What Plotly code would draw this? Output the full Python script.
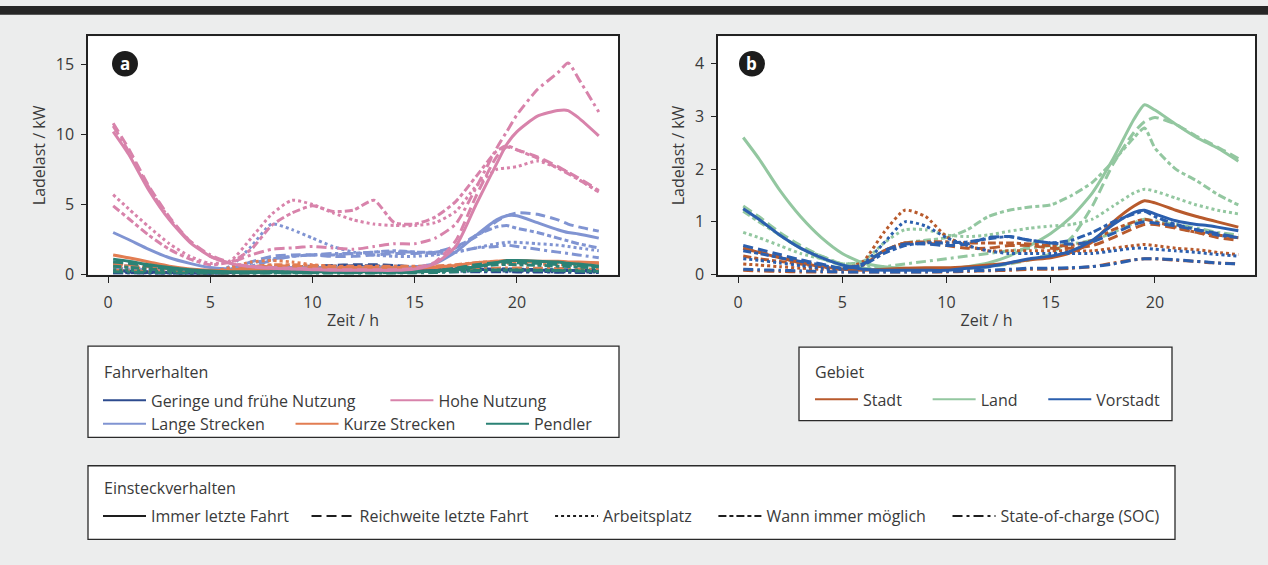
import plotly.graph_objects as go

# ---------------- data ----------------
hours = [0.25, 1, 2, 3, 4, 5, 6, 7, 8, 9, 10, 11, 12, 13, 14, 15, 16, 17, 18, 19,
         19.5, 20, 21, 22, 22.5, 23, 24]

plug_styles = ["Immer letzte Fahrt", "Reichweite letzte Fahrt", "Arbeitsplatz",
               "Wann immer möglich", "State-of-charge (SOC)"]

# Panel a: Fahrverhalten (driving behaviour), values in kW per plug-in behaviour
a_geringe = {
    "Immer letzte Fahrt": [0.3,0.25,0.2,0.15,0.12,0.1,0.15,0.25,0.35,0.4,0.45,0.5,0.55,0.55,0.5,0.45,0.4,0.38,0.36,0.35,0.35,0.33,0.3,0.3,0.3,0.28,0.25],
    "Reichweite letzte Fahrt": [0.2,0.18,0.15,0.12,0.1,0.08,0.15,0.3,0.45,0.55,0.6,0.65,0.7,0.7,0.65,0.55,0.5,0.45,0.4,0.38,0.37,0.35,0.33,0.3,0.3,0.28,0.25],
    "Arbeitsplatz": [0.15,0.13,0.1,0.08,0.07,0.06,0.2,0.45,0.6,0.55,0.45,0.35,0.3,0.28,0.26,0.25,0.25,0.25,0.25,0.25,0.25,0.24,0.22,0.2,0.2,0.19,0.18],
    "Wann immer möglich": [0.25,0.22,0.18,0.14,0.1,0.08,0.12,0.25,0.4,0.5,0.55,0.6,0.62,0.62,0.6,0.55,0.5,0.45,0.42,0.4,0.4,0.38,0.35,0.33,0.32,0.3,0.28],
    "State-of-charge (SOC)": [0.1,0.09,0.08,0.07,0.06,0.05,0.06,0.1,0.15,0.18,0.2,0.2,0.2,0.2,0.2,0.2,0.2,0.2,0.2,0.2,0.2,0.19,0.18,0.17,0.16,0.15,0.14],
}
a_lange = {
    "Immer letzte Fahrt": [3.0,2.5,1.8,1.2,0.8,0.5,0.4,0.45,0.5,0.5,0.5,0.5,0.5,0.5,0.5,0.55,0.8,1.6,2.8,3.9,4.2,4.2,3.7,3.2,3.0,2.9,2.6],
    "Reichweite letzte Fahrt": [0.9,0.8,0.6,0.45,0.35,0.3,0.4,0.9,1.3,1.4,1.4,1.3,1.3,1.4,1.5,1.5,1.6,2.0,2.7,3.8,4.2,4.4,4.3,3.9,3.6,3.4,3.1],
    "Arbeitsplatz": [0.6,0.5,0.4,0.3,0.25,0.2,0.6,2.0,3.6,3.2,2.6,2.0,1.6,1.4,1.3,1.3,1.4,1.6,1.9,2.2,2.3,2.3,2.2,2.1,2.0,1.9,1.7],
    "Wann immer möglich": [0.7,0.6,0.5,0.4,0.3,0.25,0.4,0.8,1.1,1.3,1.4,1.4,1.5,1.6,1.7,1.6,1.6,1.9,2.8,3.4,3.5,3.3,3.0,2.6,2.4,2.2,1.9],
    "State-of-charge (SOC)": [0.5,0.4,0.35,0.3,0.25,0.2,0.3,0.6,1.0,1.3,1.4,1.5,1.5,1.6,1.6,1.6,1.5,1.6,1.9,2.0,2.1,2.0,1.8,1.6,1.5,1.4,1.2],
}
a_kurze = {
    "Immer letzte Fahrt": [1.4,1.2,0.9,0.6,0.4,0.3,0.3,0.35,0.4,0.4,0.4,0.4,0.4,0.4,0.4,0.45,0.5,0.65,0.85,0.95,1.0,1.0,0.95,0.95,0.9,0.9,0.85],
    "Reichweite letzte Fahrt": [0.8,0.7,0.55,0.4,0.3,0.22,0.3,0.5,0.6,0.6,0.55,0.5,0.5,0.5,0.5,0.5,0.55,0.65,0.8,0.9,0.9,0.9,0.88,0.85,0.85,0.82,0.8],
    "Arbeitsplatz": [0.6,0.5,0.4,0.3,0.2,0.2,0.5,0.9,1.0,0.9,0.7,0.6,0.5,0.5,0.5,0.5,0.5,0.6,0.7,0.8,0.8,0.8,0.75,0.7,0.7,0.7,0.65],
    "Wann immer möglich": [0.7,0.6,0.5,0.38,0.28,0.2,0.3,0.55,0.7,0.7,0.65,0.6,0.6,0.6,0.6,0.6,0.6,0.7,0.85,0.95,0.95,0.95,0.9,0.88,0.85,0.85,0.8],
    "State-of-charge (SOC)": [0.3,0.27,0.22,0.18,0.14,0.1,0.1,0.12,0.15,0.17,0.18,0.18,0.18,0.18,0.18,0.2,0.22,0.28,0.38,0.45,0.47,0.47,0.45,0.43,0.42,0.4,0.38],
}
a_pendler = {
    "Immer letzte Fahrt": [1.1,0.95,0.7,0.5,0.35,0.25,0.2,0.2,0.2,0.2,0.2,0.2,0.2,0.2,0.2,0.2,0.25,0.35,0.55,0.85,1.0,1.0,0.95,0.9,0.8,0.75,0.6],
    "Reichweite letzte Fahrt": [0.9,0.8,0.6,0.42,0.3,0.2,0.15,0.12,0.12,0.12,0.12,0.12,0.12,0.12,0.13,0.18,0.28,0.45,0.7,0.85,0.88,0.85,0.8,0.72,0.68,0.62,0.55],
    "Arbeitsplatz": [0.35,0.3,0.25,0.2,0.15,0.12,0.12,0.15,0.18,0.2,0.2,0.2,0.2,0.2,0.2,0.2,0.22,0.25,0.3,0.32,0.32,0.32,0.3,0.3,0.28,0.28,0.25],
    "Wann immer möglich": [0.6,0.52,0.4,0.3,0.22,0.16,0.14,0.14,0.15,0.16,0.16,0.16,0.16,0.16,0.17,0.2,0.28,0.4,0.58,0.7,0.72,0.7,0.66,0.6,0.57,0.53,0.48],
    "State-of-charge (SOC)": [0.2,0.18,0.15,0.12,0.1,0.08,0.07,0.07,0.07,0.07,0.07,0.07,0.07,0.07,0.08,0.1,0.14,0.2,0.28,0.32,0.33,0.32,0.3,0.28,0.27,0.25,0.22],
}
a_hohe = {
    "Immer letzte Fahrt": [10.2,8.6,6.0,3.9,2.3,1.3,0.8,0.55,0.45,0.4,0.35,0.3,0.3,0.3,0.3,0.4,0.8,2.0,5.0,7.9,9.3,10.2,11.3,11.7,11.7,11.2,9.9],
    "Reichweite letzte Fahrt": [10.8,9.0,6.3,4.1,2.4,1.3,0.8,0.6,0.5,0.45,0.4,0.35,0.35,0.35,0.35,0.45,0.9,2.4,5.6,8.4,9.1,8.9,8.4,7.7,7.3,6.9,6.0],
    "Arbeitsplatz": [5.7,4.7,3.4,2.2,1.3,0.8,1.0,2.6,4.3,5.3,5.0,4.4,3.9,3.6,3.5,3.5,3.7,4.5,6.3,7.5,7.6,7.7,8.1,7.6,7.3,6.8,5.9],
    "Wann immer möglich": [4.9,4.0,2.8,1.8,1.1,0.7,0.9,1.8,3.5,4.4,4.9,4.5,4.6,5.3,3.7,3.6,4.1,5.2,7.0,8.8,9.2,8.9,8.3,7.6,7.2,6.8,5.9],
    "State-of-charge (SOC)": [10.6,8.8,6.2,4.0,2.4,1.4,0.9,1.4,1.8,1.9,2.0,1.9,1.8,2.0,2.2,2.2,2.6,3.6,6.2,9.0,10.2,11.4,13.2,14.4,15.1,14.0,11.6],
}

# Panel b: Gebiet (area)
b_land = {
    "Immer letzte Fahrt": [2.6,2.2,1.6,1.1,0.7,0.4,0.22,0.15,0.12,0.1,0.1,0.15,0.22,0.35,0.55,0.78,1.1,1.55,2.2,2.95,3.22,3.12,2.85,2.6,2.5,2.4,2.15],
    "Reichweite letzte Fahrt": [1.3,1.1,0.8,0.55,0.35,0.2,0.12,0.1,0.1,0.1,0.1,0.12,0.15,0.2,0.28,0.4,0.7,1.3,2.1,2.7,2.9,2.98,2.85,2.62,2.52,2.42,2.2],
    "Arbeitsplatz": [0.8,0.7,0.55,0.4,0.3,0.2,0.25,0.6,0.85,0.85,0.75,0.72,0.75,0.82,0.88,0.92,0.95,1.05,1.3,1.55,1.62,1.58,1.45,1.32,1.27,1.22,1.15],
    "Wann immer möglich": [1.2,1.0,0.75,0.5,0.35,0.2,0.25,0.45,0.6,0.65,0.7,0.85,1.1,1.22,1.28,1.32,1.5,1.75,2.15,2.6,2.78,2.4,2.0,1.78,1.65,1.52,1.32],
    "State-of-charge (SOC)": [1.25,1.05,0.75,0.5,0.3,0.18,0.15,0.15,0.2,0.25,0.3,0.35,0.4,0.45,0.5,0.55,0.58,0.65,0.8,0.98,1.05,1.02,0.95,0.88,0.84,0.8,0.75],
}
b_stadt = {
    "Immer letzte Fahrt": [0.5,0.42,0.32,0.22,0.15,0.1,0.08,0.1,0.12,0.13,0.13,0.15,0.18,0.22,0.28,0.32,0.42,0.62,1.0,1.3,1.4,1.36,1.22,1.1,1.05,1.0,0.9],
    "Reichweite letzte Fahrt": [0.5,0.43,0.34,0.25,0.17,0.12,0.2,0.45,0.6,0.6,0.55,0.5,0.5,0.55,0.55,0.5,0.5,0.55,0.7,0.88,0.95,0.95,0.88,0.8,0.75,0.7,0.65],
    "Arbeitsplatz": [0.2,0.18,0.15,0.12,0.1,0.1,0.25,0.8,1.22,1.1,0.72,0.55,0.45,0.45,0.45,0.45,0.45,0.45,0.5,0.55,0.57,0.55,0.5,0.47,0.45,0.42,0.38],
    "Wann immer möglich": [0.35,0.3,0.25,0.2,0.15,0.1,0.18,0.45,0.6,0.62,0.62,0.6,0.6,0.6,0.58,0.55,0.55,0.65,0.85,1.0,1.05,1.0,0.9,0.8,0.78,0.75,0.7],
    "State-of-charge (SOC)": [0.08,0.07,0.06,0.05,0.05,0.05,0.05,0.05,0.05,0.05,0.05,0.06,0.07,0.08,0.1,0.1,0.12,0.15,0.22,0.28,0.3,0.3,0.27,0.25,0.23,0.22,0.2],
}
b_vorstadt = {
    "Immer letzte Fahrt": [1.25,1.05,0.75,0.5,0.32,0.18,0.1,0.08,0.08,0.08,0.08,0.12,0.15,0.22,0.3,0.35,0.45,0.65,0.95,1.18,1.22,1.15,1.02,0.95,0.93,0.9,0.83],
    "Reichweite letzte Fahrt": [0.55,0.48,0.38,0.28,0.2,0.12,0.2,0.45,0.58,0.58,0.55,0.58,0.7,0.72,0.65,0.6,0.58,0.62,0.78,0.95,1.0,0.98,0.92,0.85,0.82,0.78,0.7],
    "Arbeitsplatz": [0.3,0.27,0.22,0.17,0.12,0.1,0.2,0.6,1.0,0.92,0.7,0.55,0.45,0.4,0.4,0.4,0.4,0.4,0.45,0.5,0.5,0.48,0.45,0.42,0.4,0.38,0.35],
    "Wann immer möglich": [0.45,0.4,0.32,0.25,0.18,0.12,0.18,0.4,0.55,0.6,0.6,0.62,0.68,0.72,0.65,0.6,0.65,0.8,1.0,1.15,1.2,1.1,0.95,0.85,0.8,0.75,0.7],
    "State-of-charge (SOC)": [0.1,0.09,0.08,0.07,0.06,0.05,0.05,0.05,0.05,0.05,0.06,0.07,0.08,0.1,0.12,0.12,0.13,0.15,0.2,0.28,0.3,0.3,0.28,0.25,0.24,0.22,0.2],
}

x_ticks = [0, 5, 10, 15, 20]
a_y_ticks = [0, 5, 10, 15]
b_y_ticks = [0, 1, 2, 3, 4]

# ---------------- styles ----------------
W, H = 1268, 565
FONT = "Open Sans"
TXT = "#3a3a3a"
dash_of = {
    "Immer letzte Fahrt": "solid",
    "Reichweite letzte Fahrt": "10px,5px",
    "Arbeitsplatz": "3px,3px",
    "Wann immer möglich": "8px,3px,4px,3px",
    "State-of-charge (SOC)": "10px,4px,3px,4px",
}
col_a = {"Geringe und frühe Nutzung": "#2d4b8e", "Hohe Nutzung": "#d883ab",
         "Lange Strecken": "#8094d2", "Kurze Strecken": "#e27d52", "Pendler": "#2b8275"}
col_b = {"Stadt": "#b85a2c", "Land": "#93c7a0", "Vorstadt": "#2b5fae"}

groups_a = [("Geringe und frühe Nutzung", a_geringe), ("Lange Strecken", a_lange),
            ("Kurze Strecken", a_kurze), ("Pendler", a_pendler), ("Hohe Nutzung", a_hohe)]
groups_b = [("Land", b_land), ("Stadt", b_stadt), ("Vorstadt", b_vorstadt)]

def px_x(p):
    return p / W

def px_y(p):
    return 1 - p / H

fig = go.Figure()

for name, series in groups_a:
    for style in plug_styles:
        fig.add_trace(go.Scatter(
            x=hours, y=series[style], mode="lines", xaxis="x", yaxis="y",
            line=dict(color=col_a[name], width=3, dash=dash_of[style], shape="spline", smoothing=0.6),
            showlegend=False, hoverinfo="skip"))

for name, series in groups_b:
    for style in plug_styles:
        fig.add_trace(go.Scatter(
            x=hours, y=series[style], mode="lines", xaxis="x2", yaxis="y2",
            line=dict(color=col_b[name], width=3, dash=dash_of[style], shape="spline", smoothing=0.6),
            showlegend=False, hoverinfo="skip"))

def legend_entry(name, color, dash, legend, pad):
    fig.add_trace(go.Scatter(
        x=[None], y=[None], mode="lines", name=name + "\u00a0" * pad,
        line=dict(color=color, width=2, dash=dash), legend=legend,
        xaxis="x", yaxis="y", hoverinfo="skip"))

legend_entry("Geringe und frühe Nutzung", col_a["Geringe und frühe Nutzung"], "solid", "legend", 6)
legend_entry("Hohe Nutzung", col_a["Hohe Nutzung"], "solid", "legend", 0)
legend_entry("Lange Strecken", col_a["Lange Strecken"], "solid", "legend4", 5)
legend_entry("Kurze Strecken", col_a["Kurze Strecken"], "solid", "legend4", 5)
legend_entry("Pendler", col_a["Pendler"], "solid", "legend4", 0)
legend_entry("Stadt", col_b["Stadt"], "solid", "legend2", 5)
legend_entry("Land", col_b["Land"], "solid", "legend2", 5)
legend_entry("Vorstadt", col_b["Vorstadt"], "solid", "legend2", 0)
plug_pads = [3, 4, 4, 4, 0]
for style, pad in zip(plug_styles, plug_pads):
    legend_entry(style, "#1e1e1e", dash_of[style], "legend3", pad)

axis_common = dict(
    showline=True, mirror=True, linecolor="#222", linewidth=1.5,
    ticks="outside", tickwidth=1.2, tickcolor="#222",
    showgrid=False, zeroline=False,
    tickfont=dict(family=FONT, size=16, color=TXT),
)
title_font = dict(family=FONT, size=16, color=TXT)

leg_common = dict(orientation="h", xanchor="left", yanchor="top", bgcolor="rgba(0,0,0,0)",
                  borderwidth=0, font=dict(family=FONT, size=16, color=TXT),
                  itemwidth=43, tracegroupgap=0, itemclick=False, itemdoubleclick=False)

fig.update_layout(
    width=W, height=H, autosize=False,
    margin=dict(l=0, r=0, t=0, b=0, pad=0),
    paper_bgcolor="#eceded", plot_bgcolor="#ffffff",
    font=dict(family=FONT, size=16, color=TXT),
    xaxis=dict(domain=[px_x(88), px_x(618)], range=[-0.98, 24.94], tickvals=x_ticks,
               ticklen=7, ticklabelstandoff=6,
               title=dict(text="Zeit / h", font=title_font, standoff=2), anchor="y", **axis_common),
    yaxis=dict(domain=[px_y(280), px_y(37)], range=[0, 17], tickvals=a_y_ticks, ticklen=5,
               ticklabelstandoff=4,
               title=dict(text="Ladelast / kW", font=title_font, standoff=6), anchor="x", **axis_common),
    xaxis2=dict(domain=[px_x(718), px_x(1255)], range=[-0.96, 24.8], tickvals=x_ticks,
                ticklen=7, ticklabelstandoff=6,
                title=dict(text="Zeit / h", font=title_font, standoff=2), anchor="y2", **axis_common),
    yaxis2=dict(domain=[px_y(280), px_y(37)], range=[0, 4.52], tickvals=b_y_ticks, ticklen=5,
                ticklabelstandoff=4,
                title=dict(text="Ladelast / kW", font=title_font, standoff=6), anchor="x2", **axis_common),
    legend=dict(x=px_x(98), y=px_y(391), **leg_common),
    legend4=dict(x=px_x(98), y=px_y(415), **leg_common),
    legend2=dict(x=px_x(810), y=px_y(390), **leg_common),
    legend3=dict(x=px_x(98), y=px_y(509), **leg_common),
)

# legend group headings
for text, x, y in [("Fahrverhalten", 102, 379), ("Gebiet", 813, 379), ("Einsteckverhalten", 102, 498)]:
    fig.add_annotation(xref="paper", yref="paper", x=px_x(x), y=px_y(y), text=text,
                       showarrow=False, xanchor="left", yanchor="middle",
                       font=dict(family=FONT, size=16, color=TXT))

# legend frames and decorations
def frame(x0, y0, x1, y1):
    fig.add_shape(type="rect", xref="paper", yref="paper",
                  x0=px_x(x0), x1=px_x(x1), y0=px_y(y1), y1=px_y(y0),
                  line=dict(color="#2a2a2a", width=1.3), fillcolor="#ffffff", layer="below")

frame(88, 353, 619, 446)
frame(799, 354, 1172, 429)
frame(88, 475, 1175, 550)

# top dark band
fig.add_shape(type="rect", xref="paper", yref="paper", x0=0, x1=1,
              y0=px_y(15), y1=px_y(6), line=dict(width=0), fillcolor="#262626", layer="below")

# panel badges
for xref, yref, label, (cx0, cx1) in [("x domain", "y domain", "a", (0.0453, 0.0943)),
                                      ("x2 domain", "y2 domain", "b", (0.0391, 0.0875))]:
    fig.add_shape(type="circle", xref=xref, yref=yref, x0=cx0, x1=cx1, y0=0.831, y1=0.938,
                  fillcolor="#1c1c1c", line=dict(width=0))
    fig.add_annotation(xref=xref, yref=yref, x=(cx0 + cx1) / 2, y=0.8845, text="<b>%s</b>" % label,
                       showarrow=False, font=dict(family=FONT, size=17, color="#ffffff"),
                       xanchor="center", yanchor="middle")

fig.write_html("out.html",
               config={"displayModeBar": False},
               post_script="document.body.style.margin='0px';document.body.style.overflow='hidden';")
